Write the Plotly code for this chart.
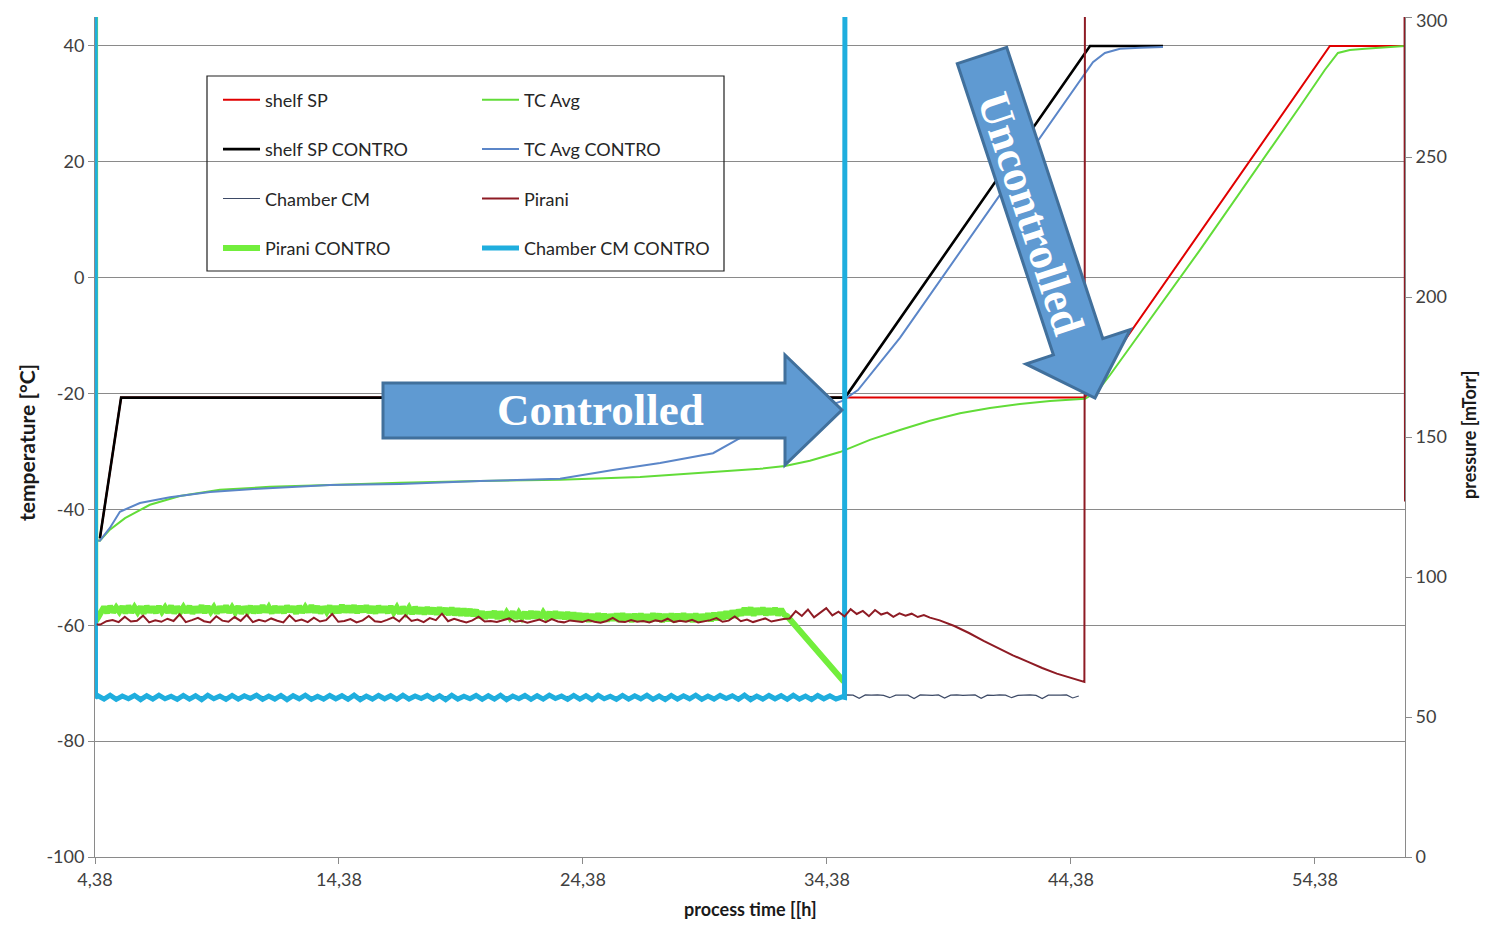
import math
import plotly.graph_objects as go

# ---------------- data ----------------
OFF = 400  # off-scale pressure (atmosphere at start / venting)

# temperatures [°C]
shelf_sp_t = [4.58, 5.45, 44.95, 54.99, 58.07]
shelf_sp_v = [-45.0, -20.7, -20.7, 40.0, 40.0]

shelf_sp_c_t = [4.58, 5.45, 35.12, 45.16, 48.15]
shelf_sp_c_v = [-45.0, -20.7, -20.7, 40.0, 40.0]

tc_avg_t = [4.38, 4.58, 4.99, 5.61, 6.63, 7.86, 9.50, 11.55, 14.01, 16.88, 20.16, 23.44,
            26.72, 29.18, 31.63, 32.66, 33.68, 34.91, 36.14, 37.37, 38.60, 39.83, 41.06,
            42.29, 43.52, 44.95, 45.45, 45.98, 49.67, 53.77, 54.79, 55.32, 55.81, 56.43,
            57.04, 58.07]
tc_avg_v = [-45.3, -45.4, -43.5, -41.5, -39.2, -37.7, -36.6, -36.1, -35.8, -35.4, -35.1, -34.9,
            -34.4, -33.7, -33.0, -32.5, -31.6, -30.1, -28.0, -26.3, -24.7, -23.4, -22.5,
            -21.8, -21.3, -20.9, -19.7, -16.8, 4.8, 29.6, 35.9, 38.8, 39.3, 39.5,
            39.7, 40.0]

tc_avg_c_t = [4.38, 4.58, 4.99, 5.40, 6.22, 7.45, 9.09, 10.73, 14.01, 16.88, 20.16, 23.44,
              25.61, 27.54, 29.71, 30.81, 32.04, 33.27, 34.99, 35.65, 37.37, 41.47, 44.75,
              45.28, 45.77, 46.39, 47.21, 48.15]
tc_avg_c_v = [-45.3, -45.4, -43.2, -40.4, -38.9, -37.9, -37.0, -36.5, -35.8, -35.6, -35.1, -34.7,
              -33.2, -32.0, -30.3, -27.7, -25.4, -23.7, -21.3, -19.4, -10.4, 14.3, 34.0,
              37.2, 38.8, 39.5, 39.7, 39.8]

# pressures [mTorr]
pirani_c_noise = [
    # t 4.5 .. 20.0
    85.5, 87.8, 89.3, 87.2, 89.6, 87.4, 89.1, 87.6, 89.5, 87.1,
    89.7, 87.3, 89.2, 87.5, 89.4, 87.0, 89.6, 87.4, 89.3, 87.2,
    89.5, 87.6, 89.1, 87.3, 89.7, 87.1, 89.4, 87.5, 89.2, 87.3,
    89.6, 87.0, 89.3, 87.4, 89.8, 87.2, 89.5, 87.6, 89.2, 87.1,
    89.4, 87.5, 89.7, 87.3, 89.1, 87.4, 89.5, 87.0, 89.3, 87.6,
    89.6, 87.2, 89.4, 87.3, 89.8, 87.5, 89.2, 87.1, 89.5, 87.4,
    89.3, 87.2, 89.7, 87.6, 89.4, 87.0, 89.6, 87.3, 89.2, 87.5,
    89.8, 87.4, 89.5, 87.1, 89.3, 87.6, 89.7, 87.2, 89.4, 87.3,
    89.9, 87.5, 89.6, 87.4, 89.8, 87.2, 89.5, 87.6, 89.7, 87.3,
    89.4, 87.1, 89.6, 87.5, 89.3, 87.2, 89.5, 87.4, 89.1, 87.0,
    89.3, 87.3, 89.0, 86.9, 89.2, 87.1, 88.9, 86.8, 89.1, 87.0,
    88.8, 86.7, 89.0, 86.9, 88.7, 86.6, 88.9, 86.5, 88.6, 86.4,
    88.5, 86.3, 88.4, 86.2, 88.2,
    # t 20.125 .. 24.25
    85.5, 87.6, 85.3, 87.4, 85.6, 87.7, 85.2, 87.5, 85.4, 87.3,
    85.6, 87.6, 85.3, 87.2, 85.5, 87.4, 85.2, 87.7, 85.4, 87.5,
    85.3, 87.3, 85.6, 87.4, 85.2, 87.6, 85.4, 87.2, 85.1, 87.3,
    85.0, 87.1, 84.8, 86.9,
    # t 24.375 .. 30.75
    84.4, 86.8, 84.2, 86.6, 84.5, 86.9, 84.1, 86.7, 84.3, 86.5,
    84.6, 86.8, 84.2, 86.9, 84.4, 86.6, 84.1, 86.7, 84.5, 86.8,
    84.3, 86.5, 84.2, 86.9, 84.6, 86.7, 84.1, 86.6, 84.4, 86.8,
    84.2, 86.7, 84.5, 86.9, 84.3, 86.6, 84.1, 86.8, 84.4, 86.5,
    84.6, 86.9, 84.3, 87.1, 84.7, 87.3, 85.0, 87.6, 85.3, 87.9,
    85.6, 88.2,
    # t 30.875 .. 32.625
    86.4, 88.8, 86.6, 89.0, 86.3, 88.7, 86.8, 88.9, 86.5, 88.6,
    86.7, 88.8, 86.4, 88.5, 86.6]
pirani_c_t = ([4.38, 4.39] + [4.5 + 0.125 * i for i in range(len(pirani_c_noise))]
              + [32.75, 35.04, 35.10])
pirani_c_v = [OFF, 84.0] + pirani_c_noise + [86.0, 63.0, 62.8]

pirani_noise_a = [83.0, 84.2, 84.6, 83.9, 85.8, 84.1, 84.4, 86.2, 83.8, 84.5,
                  84.0, 85.1, 84.3, 86.7, 83.9, 84.6, 85.4, 84.2, 83.8, 86.0,
                  84.4, 84.0, 85.7, 84.3, 86.5, 83.9, 84.7, 84.1, 85.2, 84.4,
                  83.8, 86.3, 84.2, 84.8, 83.9, 85.5, 84.1, 84.6, 86.8, 84.0,
                  84.3, 85.0, 83.8, 84.5, 86.1, 84.2, 83.9, 84.7, 85.6, 84.1,
                  86.4, 84.3, 84.8, 83.9, 85.3, 84.6, 86.9, 84.2, 85.1, 84.4,
                  83.8, 84.5, 85.8, 84.1, 84.3, 83.9, 84.6, 85.2, 84.0, 84.4,
                  83.7, 84.2, 84.8, 83.9, 85.0, 84.1, 83.8, 84.5, 84.2, 83.9,
                  84.6, 84.0, 83.7, 84.3, 85.4, 84.1, 83.9, 84.6, 84.0, 84.3,
                  83.8, 84.5, 84.1, 85.1, 83.9, 84.4, 84.0, 84.7, 83.8, 84.2,
                  84.6, 85.3, 84.0, 84.4, 85.9, 84.2, 84.8, 83.9, 84.5, 85.2,
                  84.1, 84.6, 85.0]
pirani_noise_b = [85.2, 87.8, 86.1, 88.4, 85.6, 87.2, 88.9, 86.3, 87.6, 85.9,
                  88.5, 86.8, 87.9, 86.0, 88.2, 86.6, 87.3, 85.8, 87.0, 86.2,
                  86.9, 85.7, 86.4, 85.5]
pirani_decl_t = [39.0, 39.6, 40.2, 40.8, 41.4, 42.0, 42.6, 43.2, 43.8, 44.4, 44.93]
pirani_decl_v = [84.5, 82.5, 80.0, 77.2, 74.5, 72.0, 69.8, 67.5, 65.5, 63.8, 62.5]
pirani_t = ([4.45] + [4.6 + 0.25 * i for i in range(len(pirani_noise_a))]
            + [32.85 + 0.25 * i for i in range(len(pirani_noise_b))]
            + pirani_decl_t + [44.96, 58.04, 58.07])
pirani_v = [83.0] + pirani_noise_a + pirani_noise_b + pirani_decl_v + [OFF, OFF, 127.0]

cm_c_noise = [57.6, 56.4, 57.8, 56.3, 57.5, 56.5, 57.7, 56.2, 57.6, 56.4,
              57.8, 56.5, 57.4, 56.3, 57.7, 56.4, 57.6, 56.2, 57.8, 56.5,
              57.5, 56.3, 57.7, 56.4, 57.6, 56.6, 57.8, 56.3, 57.5, 56.4,
              57.7, 56.2, 57.6, 56.5, 57.8, 56.3, 57.4, 56.4, 57.7, 56.5,
              57.6, 56.3, 57.8, 56.2, 57.5, 56.4, 57.7, 56.5, 57.6, 56.3,
              57.8, 56.4, 57.5, 56.6, 57.7, 56.3, 57.6, 56.2, 57.8, 56.4,
              57.4, 56.5, 57.7, 56.3, 57.6, 56.4, 57.8, 56.2, 57.5, 56.5,
              57.7, 56.3, 57.6, 56.4, 57.8, 56.6, 57.5, 56.3, 57.7, 56.4,
              57.6, 56.2, 57.8, 56.5, 57.4, 56.3, 57.7, 56.4, 57.6, 56.5,
              57.8, 56.3, 57.5, 56.2, 57.7, 56.4, 57.6, 56.5, 57.8, 56.3,
              57.5, 56.4, 57.7, 56.6, 57.6, 56.3, 57.8, 56.2, 57.5, 56.4,
              57.7, 56.5, 57.6, 56.3, 57.8, 56.4, 57.5, 56.2, 57.7, 56.5,
              57.6, 56.4, 57.2]
cm_c_t = [4.38, 4.40] + [4.5 + 0.25 * i for i in range(len(cm_c_noise))] + [35.10, 35.12]
cm_c_v = [OFF, 57.0] + cm_c_noise + [57.0, OFF]

cm_early = [57.2, 57.0, 57.4, 56.9, 57.3, 57.1, 57.5, 56.8, 57.2, 57.0,
            57.3, 57.1, 56.9, 57.4, 57.2, 57.0, 57.3, 56.8, 57.1, 57.4,
            57.0, 57.2, 56.9, 57.3, 57.1, 57.0, 57.4, 57.2, 56.9, 57.3, 57.1]
cm_late = [57.9, 57.8, 56.7, 57.9, 57.8, 57.9, 57.7, 56.9, 57.8, 57.9,
           57.8, 56.6, 57.9, 57.8, 57.7, 57.9, 56.8, 57.8, 57.9, 57.7,
           57.8, 57.9, 56.7, 57.8, 57.7, 57.9, 57.8, 56.9, 57.7, 57.8,
           57.9, 57.7, 56.6, 57.8, 57.7, 57.8, 57.9, 56.8, 57.5]
cm_t = ([4.42] + [5.0 + 1.0 * i for i in range(len(cm_early))]
        + [35.2 + 0.25 * i for i in range(len(cm_late))])
cm_v = [57.2] + cm_early + cm_late

x_tick_vals = [4.38, 14.38, 24.38, 34.38, 44.38, 54.38]
x_tick_text = ["4,38", "14,38", "24,38", "34,38", "44,38", "54,38"]
y_tick_vals = [-100, -80, -60, -40, -20, 0, 20, 40]
y_tick_text = ["-100", "-80", "-60", "-40", "-20", "0", "20", "40"]
y2_tick_vals = [0, 50, 100, 150, 200, 250, 300]
y2_tick_text = ["0", "50", "100", "150", "200", "250", ""]  # top label drawn separately
y2_top_label = "300"

# ---------------- figure ----------------
OFFS = 8                        # page body margin
W, H = 1490 - OFFS, 929 - 2 * OFFS
L, R, T, B = 95, 1405, 17, 857  # plot area in screen pixels


def px(x):
    return (x - L) / (R - L)


def py(y):
    return (B - y) / (B - T)


fig = go.Figure()


def add(t, v, name, color, width, legend, rank, yaxis="y"):
    fig.add_trace(go.Scatter(
        x=t, y=v, name=name, mode="lines", yaxis=yaxis,
        line=dict(color=color, width=width),
        legend=legend, legendgroup=name, legendrank=rank, hoverinfo="skip"))


add(shelf_sp_t, shelf_sp_v, "shelf SP", "#e00000", 2, "legend", 1)
add(tc_avg_t, tc_avg_v, "TC Avg", "#62dc38", 2, "legend2", 1)
add(shelf_sp_c_t, shelf_sp_c_v, "shelf SP CONTRO", "#000000", 2.6, "legend", 2)
add(tc_avg_c_t, tc_avg_c_v, "TC Avg CONTRO", "#5b86c8", 2, "legend2", 2)
add(cm_t, cm_v, "Chamber CM", "#3d4a66", 1.2, "legend", 3, "y2")
add(pirani_c_t, pirani_c_v, "Pirani CONTRO", "#72ee3c", 6, "legend", 4, "y2")
add(cm_c_t, cm_c_v, "Chamber CM CONTRO", "#1faede", 5, "legend2", 4, "y2")
add(pirani_t, pirani_v, "Pirani", "#8e1b24", 2, "legend2", 3, "y2")

axis_font = dict(family="Lato", size=18, color="#404040")
line_col = "#8a8a8a"
leg_font = dict(family="Lato", size=18, color="#262626")

fig.update_layout(
    width=W, height=H,
    margin=dict(l=L - OFFS, r=W - (R - OFFS), t=T - OFFS, b=H - (B - OFFS)),
    plot_bgcolor="white", paper_bgcolor="white",
    font=dict(family="Lato", size=17, color="#262626"),
    xaxis=dict(range=[4.38, 58.07], tickvals=x_tick_vals, ticktext=x_tick_text,
               showgrid=False, zeroline=False, showline=True, linecolor=line_col,
               ticks="outside", ticklen=6, tickcolor=line_col, tickfont=axis_font,
               automargin=False, ticklabeloverflow="allow"),
    yaxis=dict(range=[-100, 45], tickvals=y_tick_vals, ticktext=y_tick_text,
               showgrid=True, gridcolor=line_col, gridwidth=1, zeroline=False,
               showline=True, linecolor=line_col, ticks="outside", ticklen=6,
               tickcolor=line_col, tickfont=axis_font, automargin=False,
               ticklabeloverflow="allow"),
    yaxis2=dict(range=[0, 300], tickvals=y2_tick_vals, ticktext=y2_tick_text,
                overlaying="y", side="right",
                showgrid=False, zeroline=False, showline=True, linecolor=line_col,
                ticks="outside", ticklen=6, tickcolor=line_col, tickfont=axis_font,
                automargin=False, ticklabeloverflow="allow"),
    legend=dict(x=px(218), y=py(81.5), xanchor="left", yanchor="top",
                bgcolor="rgba(0,0,0,0)", borderwidth=0, itemwidth=37,
                tracegroupgap=23, traceorder="grouped", font=leg_font),
    legend2=dict(x=px(477), y=py(81.5), xanchor="left", yanchor="top",
                 bgcolor="rgba(0,0,0,0)", borderwidth=0, itemwidth=37,
                 tracegroupgap=23, traceorder="grouped", font=leg_font),
    showlegend=True,
)

# top label of the pressure axis, nudged to stay inside the page
fig.add_annotation(xref="paper", yref="paper", x=px(1414), y=py(20.5), text=y2_top_label,
                   xanchor="left", yanchor="middle", showarrow=False, font=axis_font)

# legend frame
fig.add_shape(type="rect", xref="paper", yref="paper",
              x0=px(207), x1=px(724), y0=py(76), y1=py(271),
              line=dict(color="#202020", width=1.2), fillcolor="rgba(0,0,0,0)", layer="above")

arrow_fill = "#5f9ad2"
arrow_line = "#41709c"
arrow_font = dict(family="Liberation Serif", size=45, color="white", weight="bold")

# "Controlled" arrow
ctrl = [(383, 383), (785, 383), (785, 355), (842, 410), (785, 465), (785, 438), (383, 438)]
path = "M " + " L ".join(f"{px(a):.5f},{py(b):.5f}" for a, b in ctrl) + " Z"
fig.add_shape(type="path", xref="paper", yref="paper", path=path,
              fillcolor=arrow_fill, line=dict(color=arrow_line, width=3), layer="above")
fig.add_annotation(xref="paper", yref="paper", x=px(600), y=py(410), text="Controlled",
                   xanchor="center", yanchor="middle", showarrow=False, font=arrow_font)

# "Uncontrolled" arrow (diagonal)
S = (982.0, 55.5)
Tp = (1095.0, 398.0)
dx, dy = Tp[0] - S[0], Tp[1] - S[1]
ln = math.hypot(dx, dy)
ux, uy = dx / ln, dy / ln
nx, ny = uy, -ux
hw, hh, hl = 26, 55, 54
nk = (Tp[0] - hl * ux, Tp[1] - hl * uy)
unc = [(S[0] - hw * nx, S[1] - hw * ny), (S[0] + hw * nx, S[1] + hw * ny),
       (nk[0] + hw * nx, nk[1] + hw * ny), (nk[0] + hh * nx, nk[1] + hh * ny),
       Tp, (nk[0] - hh * nx, nk[1] - hh * ny), (nk[0] - hw * nx, nk[1] - hw * ny)]
path2 = "M " + " L ".join(f"{px(a):.5f},{py(b):.5f}" for a, b in unc) + " Z"
fig.add_shape(type="path", xref="paper", yref="paper", path=path2,
              fillcolor=arrow_fill, line=dict(color=arrow_line, width=3), layer="above")
fig.add_annotation(xref="paper", yref="paper", x=px(1031), y=py(214), text="Uncontrolled",
                   xanchor="center", yanchor="middle",
                   textangle=math.degrees(math.atan2(dy, dx)), showarrow=False, font=arrow_font)


# axis titles
def title_font(s):
    return dict(family="Lato", size=s, color="#1a1a1a", weight="bold")


fig.add_annotation(xref="paper", yref="paper", x=px(750), y=py(909), text="process time [[h]",
                   xanchor="center", yanchor="middle", showarrow=False, font=title_font(18))
fig.add_annotation(xref="paper", yref="paper", x=px(26), y=py(443), text="temperature [°C]",
                   xanchor="center", yanchor="middle", textangle=-90, showarrow=False,
                   font=title_font(21))
fig.add_annotation(xref="paper", yref="paper", x=px(1469), y=py(435), text="pressure [mTorr]",
                   xanchor="center", yanchor="middle", textangle=-90, showarrow=False,
                   font=title_font(18))

fig.write_html("out.html")
